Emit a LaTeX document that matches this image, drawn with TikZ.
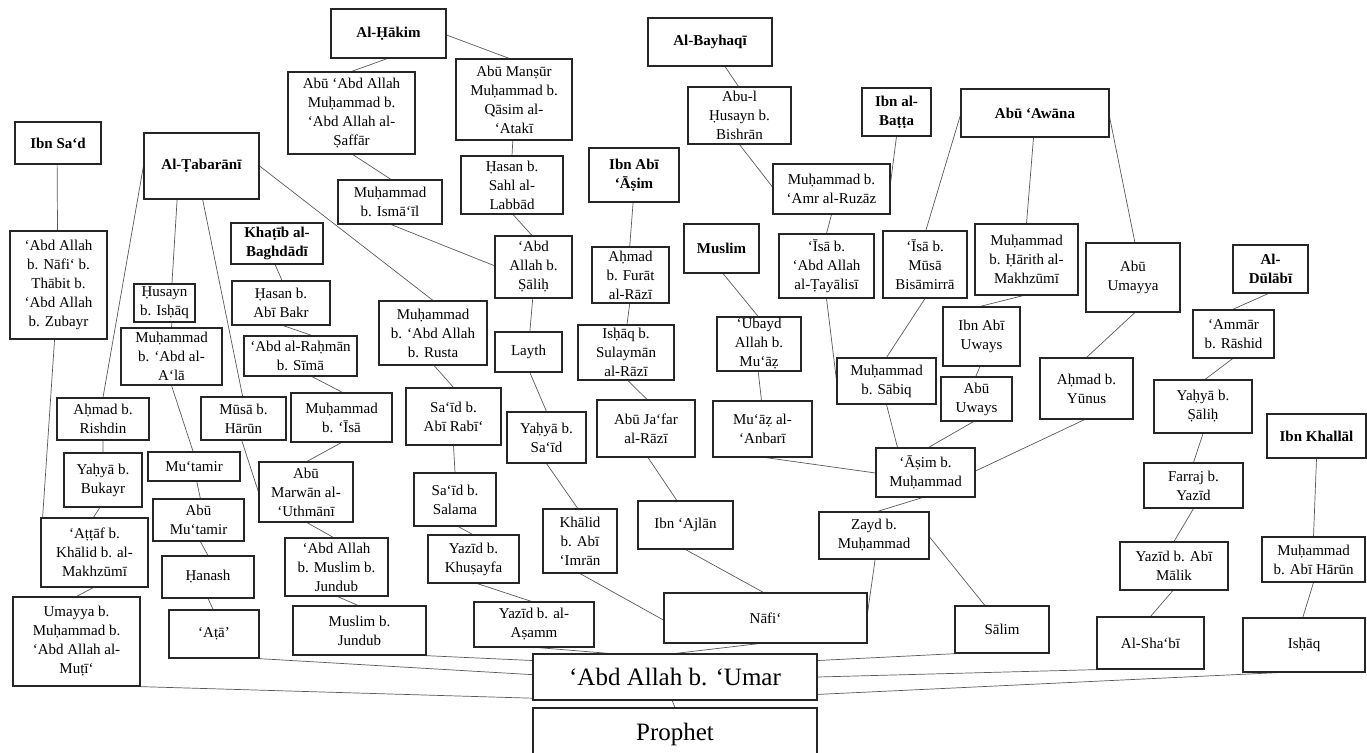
\documentclass[tikz,border=0pt]{standalone}
\usepackage{fontspec}
\setmainfont{Liberation Serif}
\usetikzlibrary{calc}
\pgfdeclarelayer{bg}
\pgfsetlayers{bg,main}
\newcommand{\pB}[2]{($(#1.south west)!#2!(#1.south east)$)}
\newcommand{\pT}[2]{($(#1.north west)!#2!(#1.north east)$)}
\newcommand{\pL}[2]{($(#1.north west)!#2!(#1.south west)$)}
\newcommand{\pR}[2]{($(#1.north east)!#2!(#1.south east)$)}
\tikzset{
 box/.style={draw=black!85, line width=1.1pt, align=center, inner sep=1pt, font=\fontsize{15}{19}\selectfont},
 hdr/.style={box, font=\fontsize{15}{19}\selectfont\bfseries},
 big/.style={box, font=\fontsize{25}{30}\selectfont},
 link/.style={draw=black!65, line width=0.7pt},
}
\newcommand{\bx}[7][box]{\node[#1, minimum width={#5-#3}, minimum height={#6-#4}] (#2) at ({(#3+#5)/2},{(#4+#6)/2}) {#7};}
\begin{document}
\begin{tikzpicture}[x=1pt,y=-1pt]
\useasboundingbox (0,0) rectangle (1367,752);
% left
\bx[hdr]{ibnsad}{15}{122}{101}{164}{Ibn Sa‘d}
\bx[hdr]{tabarani}{144}{133}{259}{199}{Al-Ṭabarānī}
\bx{nafib}{10}{231}{107}{339}{‘Abd Allah\\ b. Nāfi‘ b.\\ Thābit b.\\ ‘Abd Allah\\ b. Zubayr}
\bx[hdr]{khatib}{231}{223}{323}{264}{Khaṭīb al-\\ Baghdādī}
\bx{husayn}{134}{284}{195}{322}{Ḥusayn\\ b. Isḥāq}
\bx{muhabdala}{121}{328}{222}{385}{Muḥammad\\ b. ‘Abd al-\\ A‘lā}
\bx{hasanbakr}{232}{281}{330}{325}{Ḥasan b.\\ Abī Bakr}
\bx{abdrahman}{244}{336}{357}{376}{‘Abd al-Raḥmān\\ b. Sīmā}
\bx{rishdin}{57}{398}{149}{440}{Aḥmad b.\\ Rishdin}
\bx{musaharun}{201}{397}{286}{440}{Mūsā b.\\ Hārūn}
\bx{muhisa}{291}{393}{392}{442}{Muḥammad\\ b. ‘Īsā}
\bx{bukayr}{64}{453}{142}{507}{Yaḥyā b.\\ Bukayr}
\bx{mutamir}{148}{452}{240}{481}{Mu‘tamir}
\bx{abumarwan}{259}{462}{353}{522}{Abū\\ Marwān al-\\ ‘Uthmānī}
\bx{abumutamir}{153}{499}{244}{541}{Abū\\ Mu‘tamir}
\bx{attaf}{41}{518}{148}{587}{‘Aṭṭāf b.\\ Khālid b. al-\\ Makhzūmī}
\bx{hanash}{162}{556}{254}{598}{Ḥanash}
\bx{abdmuslim}{285}{538}{388}{596}{‘Abd Allah\\ b. Muslim b.\\ Jundub}
\bx{umayya}{13}{597}{140}{686}{Umayya b.\\ Muḥammad b.\\ ‘Abd Allah al-\\ Muṭī‘}
\bx{ata}{169}{610}{259}{658}{‘Aṭā’}
\bx{muslimjundub}{293}{606}{426}{655}{Muslim b.\\ Jundub}
% centre-left
\bx[hdr]{hakim}{331}{9}{446}{58}{Al-Ḥākim}
\bx{saffar}{288}{72}{415}{154}{Abū ‘Abd Allah\\ Muḥammad b.\\ ‘Abd Allah al-\\ Ṣaffār}
\bx{atak}{456}{59}{572}{140}{Abū Manṣūr\\ Muḥammad b.\\ Qāsim al-\\ ‘Atakī}
\bx{ismail}{338}{180}{442}{224}{Muḥammad\\ b. Ismā‘īl}
\bx{labbad}{461}{156}{563}{214}{Ḥasan b.\\ Sahl al-\\ Labbād}
\bx{salih}{495}{236}{572}{298}{‘Abd\\ Allah b.\\ Ṣāliḥ}
\bx{rusta}{379}{301}{487}{365}{Muḥammad\\ b. ‘Abd Allah\\ b. Rusta}
\bx{layth}{495}{332}{562}{372}{Layth}
\bx{saidrabi}{406}{388}{501}{445}{Sa‘īd b.\\ Abī Rabī‘}
\bx{yahyasaid}{507}{412}{586}{463}{Yaḥyā b.\\ Sa‘īd}
\bx{saidsalama}{414}{473}{496}{526}{Sa‘īd b.\\ Salama}
\bx{khusayfa}{428}{535}{519}{583}{Yazīd b.\\ Khuṣayfa}
\bx{asamm}{474}{602}{594}{647}{Yazīd b. al-\\ Aṣamm}
\bx{khalid}{543}{509}{617}{573}{Khālid\\ b. Abī\\ ‘Imrān}
% centre
\bx[hdr]{ibnabiasim}{589}{148}{679}{202}{Ibn Abī\\ ‘Āṣim}
\bx{furat}{592}{247}{669}{303}{Aḥmad\\ b. Furāt\\ al-Rāzī}
\bx{sulayman}{578}{325}{674}{380}{Isḥāq b.\\ Sulaymān\\ al-Rāzī}
\bx{abujafar}{597}{400}{695}{457}{Abū Ja‘far\\ al-Rāzī}
\bx{ajlan}{638}{501}{733}{549}{Ibn ‘Ajlān}
\bx{nafi}{664}{593}{867}{643}{Nāfi‘}
\bx[hdr]{bayhaqi}{648}{18}{772}{66}{Al-Bayhaqī}
\bx{bishran}{688}{87}{791}{144}{Abu-l\\ Ḥusayn b.\\ Bishrān}
\bx{ruzaz}{773}{164}{890}{214}{Muḥammad b.\\ ‘Amr al-Ruzāz}
\bx[hdr]{ibnbatta}{862}{88}{931}{136}{Ibn al-\\ Baṭṭa}
\bx[hdr]{muslim}{684}{224}{759}{273}{Muslim}
\bx{ubayd}{717}{317}{801}{371}{‘Ubayd\\ Allah b.\\ Mu‘āẓ}
\bx{muaz}{713}{401}{812}{457}{Mu‘āẓ al-\\ ‘Anbarī}
\bx{tayalisi}{779}{234}{874}{298}{‘Īsā b.\\ ‘Abd Allah\\ al-Ṭayālisī}
% right
\bx{bisamirra}{883}{231}{967}{298}{‘Īsā b.\\ Mūsā\\ Bisāmirrā}
\bx[hdr]{abuawana}{961}{89}{1109}{137}{Abū ‘Awāna}
\bx{makhzumi}{975}{224}{1078}{295}{Muḥammad\\ b. Ḥārith al-\\ Makhzūmī}
\bx{abuumayya}{1086}{243}{1180}{312}{Abū\\ Umayya}
\bx{ibnabiuways}{943}{307}{1020}{366}{Ibn Abī\\ Uways}
\bx{abuuways}{941}{377}{1012}{421}{Abū\\ Uways}
\bx{sabiq}{837}{358}{936}{404}{Muḥammad\\ b. Sābiq}
\bx{yunus}{1040}{358}{1133}{419}{Aḥmad b.\\ Yūnus}
\bx{asim}{876}{448}{975}{497}{‘Āṣim b.\\ Muḥammad}
\bx{zayd}{819}{512}{929}{559}{Zayd b.\\ Muḥammad}
\bx{salim}{955}{606}{1049}{653}{Sālim}
\bx[hdr]{dulabi}{1233}{245}{1308}{293}{Al-\\ Dūlābī}
\bx{ammar}{1193}{310}{1274}{358}{‘Ammār\\ b. Rāshid}
\bx{yahyasalih}{1154}{380}{1252}{433}{Yaḥyā b.\\ Ṣāliḥ}
\bx[hdr]{ibnkhallal}{1267}{414}{1366}{458}{Ibn Khallāl}
\bx{farraj}{1144}{463}{1243}{508}{Farraj b.\\ Yazīd}
\bx{yazidmalik}{1120}{542}{1228}{590}{Yazīd b. Abī\\ Mālik}
\bx{muhharun}{1262}{537}{1365}{582}{Muḥammad\\ b. Abī Hārūn}
\bx{shabi}{1097}{617}{1204}{669}{Al-Sha‘bī}
\bx{ishaq}{1243}{618}{1365}{672}{Isḥāq}
% bottom
\bx[big]{abdumar}{533}{654}{817}{700}{‘Abd Allah b. ‘Umar}
\bx[big]{prophet}{533}{708}{817}{760}{Prophet}
\begin{pgfonlayer}{bg}
\path[link]
 \pB{ibnsad}{0.49} -- \pT{nafib}{0.49}
 \pB{nafib}{0.46} -- \pT{attaf}{0.02}
 \pL{tabarani}{0.5} -- \pT{rishdin}{0.5}
 \pB{tabarani}{0.29} -- \pT{husayn}{0.62}
 \pB{husayn}{0.62} -- \pT{muhabdala}{0.5}
 \pB{muhabdala}{0.5} -- \pT{mutamir}{0.49}
 \pB{mutamir}{0.53} -- \pT{abumutamir}{0.52}
 \pB{abumutamir}{0.52} -- \pT{hanash}{0.5}
 \pB{hanash}{0.5} -- \pT{ata}{0.49}
 \pB{tabarani}{0.51} -- \pT{musaharun}{0.49}
 \pB{musaharun}{0.48} -- \pL{abumarwan}{0.5}
 \pR{tabarani}{0.5} -- \pT{rusta}{0.5}
 \pB{khatib}{0.48} -- \pT{hasanbakr}{0.51}
 \pB{hasanbakr}{0.52} -- \pT{abdrahman}{0.6}
 \pB{abdrahman}{0.6} -- \pT{muhisa}{0.51}
 \pB{muhisa}{0.5} -- \pT{abumarwan}{0.51}
 \pB{abumarwan}{0.51} -- \pT{abdmuslim}{0.47}
 \pB{abdmuslim}{0.51} -- \pT{muslimjundub}{0.49}
 \pB{rishdin}{0.5} -- \pT{bukayr}{0.5}
 \pB{bukayr}{0.46} -- \pT{attaf}{0.49}
 \pB{attaf}{0.49} -- \pT{umayya}{0.5}
 \pB{hakim}{0.49} -- \pT{saffar}{0.5}
 \pR{hakim}{0.53} -- \pT{atak}{0.46}
 \pB{saffar}{0.51} -- \pT{ismail}{0.51}
 \pB{ismail}{0.51} -- \pL{salih}{0.48}
 \pB{atak}{0.49} -- \pT{labbad}{0.5}
 \pB{labbad}{0.51} -- \pT{salih}{0.48}
 \pB{salih}{0.49} -- \pT{layth}{0.52}
 \pB{layth}{0.52} -- \pT{yahyasaid}{0.5}
 \pB{yahyasaid}{0.5} -- \pT{khalid}{0.47}
 \pB{khalid}{0.5} -- \pL{nafi}{0.54}
 \pB{rusta}{0.51} -- \pT{saidrabi}{0.5}
 \pB{saidrabi}{0.5} -- \pT{saidsalama}{0.5}
 \pB{saidsalama}{0.54} -- \pT{khusayfa}{0.49}
 \pB{khusayfa}{0.54} -- \pT{asamm}{0.48}
 \pB{asamm}{0.53} -- \pT{abdumar}{0.27}
 \pB{nafi}{0.47} -- \pT{abdumar}{0.5}
 \pB{ibnabiasim}{0.49} -- \pT{furat}{0.49}
 \pB{furat}{0.49} -- \pT{sulayman}{0.51}
 \pB{sulayman}{0.52} -- \pT{abujafar}{0.51}
 \pB{abujafar}{0.52} -- \pT{ajlan}{0.41}
 \pB{ajlan}{0.5} -- \pT{nafi}{0.49}
 \pB{bayhaqi}{0.62} -- \pT{bishran}{0.49}
 \pB{bishran}{0.5} -- \pL{ruzaz}{0.46}
 \pB{ibnbatta}{0.5} -- \pR{ruzaz}{0.38}
 \pB{ruzaz}{0.5} -- \pT{tayalisi}{0.5}
 \pB{tayalisi}{0.5} -- \pL{sabiq}{0.48}
 \pB{bisamirra}{0.5} -- \pT{sabiq}{0.5}
 \pL{abuawana}{0.54} -- \pT{bisamirra}{0.51}
 \pB{abuawana}{0.49} -- \pT{makhzumi}{0.5}
 \pR{abuawana}{0.58} -- \pT{abuumayya}{0.52}
 \pB{makhzumi}{0.47} -- \pT{ibnabiuways}{0.48}
 \pB{ibnabiuways}{0.48} -- \pT{abuuways}{0.49}
 \pB{abuuways}{0.46} -- \pT{asim}{0.53}
 \pB{sabiq}{0.5} -- \pT{asim}{0.22}
 \pB{yunus}{0.48} -- \pR{asim}{0.47}
 \pB{abuumayya}{0.52} -- \pT{yunus}{0.5}
 \pB{muslim}{0.52} -- \pT{ubayd}{0.49}
 \pB{ubayd}{0.49} -- \pT{muaz}{0.49}
 \pB{muaz}{0.53} -- \pL{asim}{0.51}
 \pB{asim}{0.47} -- \pT{zayd}{0.53}
 \pB{zayd}{0.51} -- \pR{nafi}{0.4}
 \pR{zayd}{0.53} -- \pT{salim}{0.32}
 \pR{abdumar}{0.15} -- \pB{salim}{0.03}
 \pR{abdumar}{0.5} -- \pB{shabi}{0.02}
 \pR{abdumar}{0.87} -- \pB{ishaq}{0.3}
 \pB{dulabi}{0.47} -- \pT{ammar}{0.49}
 \pB{ammar}{0.49} -- \pT{yahyasalih}{0.52}
 \pB{yahyasalih}{0.5} -- \pT{farraj}{0.5}
 \pB{farraj}{0.5} -- \pT{yazidmalik}{0.5}
 \pB{yazidmalik}{0.49} -- \pT{shabi}{0.5}
 \pB{ibnkhallal}{0.5} -- \pT{muhharun}{0.5}
 \pB{muhharun}{0.5} -- \pT{ishaq}{0.49}
 \pB{abdumar}{0.49} -- \pT{prophet}{0.5}
 \pB{muslimjundub}{0.98} -- \pL{abdumar}{0.15}
 \pB{ata}{0.98} -- \pL{abdumar}{0.45}
 \pB{umayya}{0.98} -- \pL{abdumar}{0.95};
\end{pgfonlayer}
\end{tikzpicture}
\end{document}
